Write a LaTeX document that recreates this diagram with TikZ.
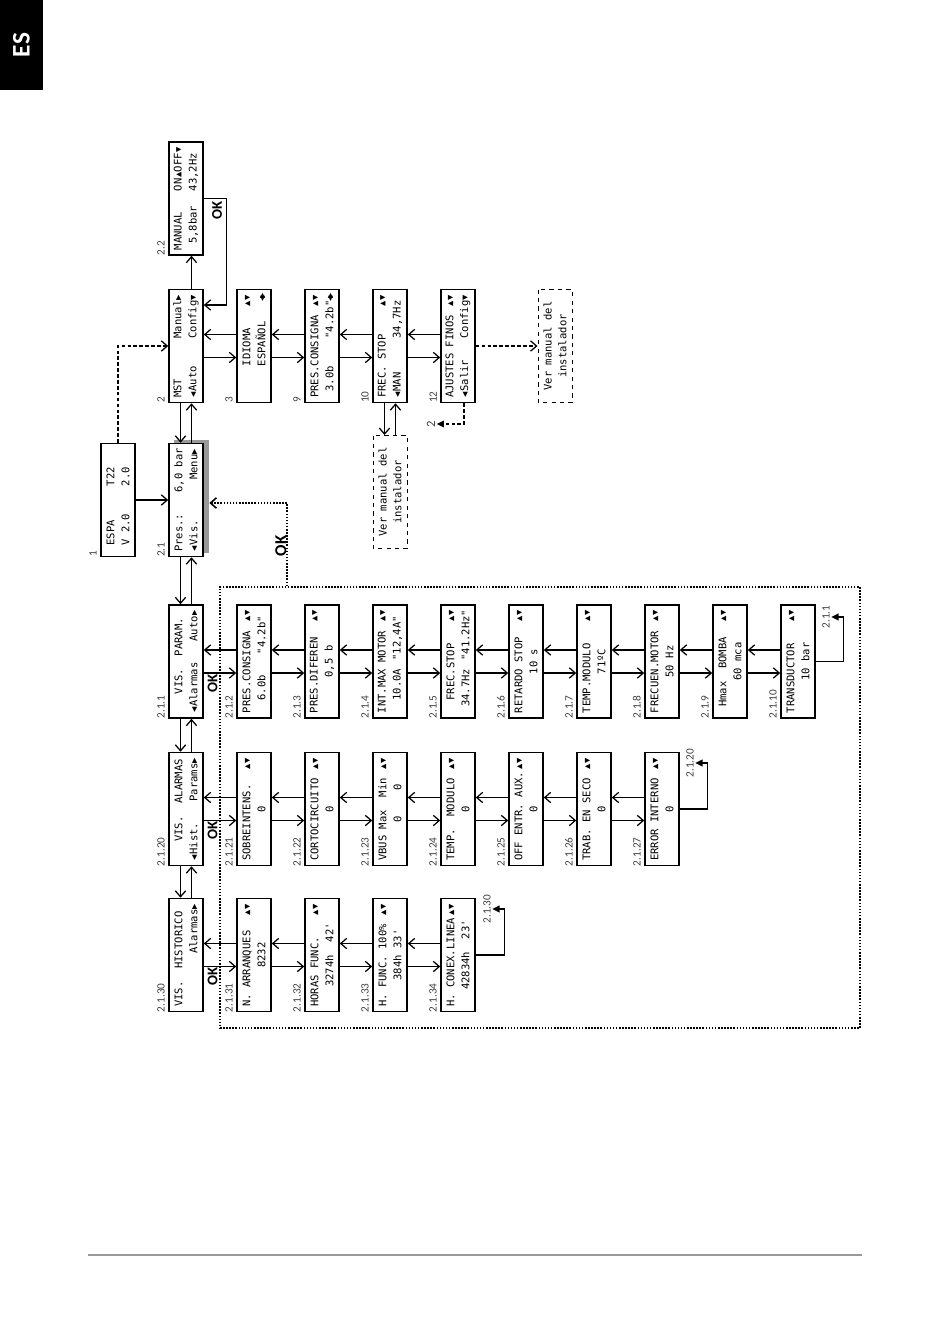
\documentclass[tikz,border=0pt]{standalone}
\usepackage{fontspec}
\setmainfont{Carlito}
\setmonofont{DejaVu Sans Mono}[WordSpace={1,0,0}]
\newfontfamily\symf{DejaVu Sans}
\usetikzlibrary{arrows.meta,positioning,calc}
\newcommand\onech[1]{\makebox[0.602em]{#1}}
\newcommand\aU{\onech{\symf ▴}}
\newcommand\aD{\onech{\symf ▾}}
\newcommand\aL{\onech{\symf ◂}}
\newcommand\aR{\onech{\symf ▸}}
\newcommand\aLR{\onech{\symf ◂\kern-.28em▸}}
\newcommand\lcdl[2]{\leavevmode\hbox to\hsize{#1\hfill#2}}
\newcommand\lcdc[1]{\leavevmode\hbox to\hsize{\hfill#1\hfill}}
\newcommand\lcdfont{\ttfamily\fontsize{7.5}{10.6}\selectfont\def~{\hspace*{0.602em}}}
\tikzset{
  lcd/.style={draw, fill=white, line width=1.1pt, rotate=90,
              minimum width=28.25mm, minimum height=8.5mm, inner sep=0pt,
              text width=25.9mm, align=left, font=\lcdfont},
  ver/.style={lcd, dashed, line width=0.7pt, align=center},
  num/.style={rotate=90, inner sep=0pt, text=black!75, font=\fontsize{8}{9}\selectfont},
  okl/.style={rotate=90, inner sep=0pt, font=\bfseries\fontsize{10.5}{10.5}\selectfont},
  dotframe/.style={draw, line width=1.1pt, dash pattern=on 1.1pt off 1.1pt,
                   minimum width=160mm, minimum height=110.25mm},
  fw/.style={line width=0.9pt, -{Straight Barb[length=1.5mm,width=2.6mm]}},
  bk/.style={line width=0.9pt, -{Triangle[length=1.8mm,width=1.7mm]}},
  dsh/.style={dash pattern=on 2.6pt off 1.6pt},
  dts/.style={line width=1.1pt, dash pattern=on 1.1pt off 1.1pt},
}

\begin{document}
\begin{tikzpicture}[x=0.25mm,y=-0.25mm]
  \useasboundingbox (0,0) rectangle (950,1344);
  % language tab and footer rule
  \fill (0,0) rectangle (43,90);
  \node[rotate=90, text=white, font=\bfseries\fontsize{18}{18}\selectfont] (es) at (21.5,45) {ES};
  \draw[black!40, line width=1pt] (88,1255) -- (862,1255);

  % dotted frame round the sub menus
  \node[dotframe] (fr) at (540,807.5) {};
  \fill[black!40] (174,440) rectangle (208.5,553);

  % main menu
  \node[lcd] (b1) at (118,500) {\lcdl{~ESPA}{T22~~~}\\\lcdl{~V~2.0}{2.0~~~}};
  \node[lcd] (b21) at (186,500) {\lcdl{Pres.:}{6,0~bar}\\\lcdl{\aL Vis.}{Menu\aR}};
  \node[lcd] (b2) at (186,346) {\lcdl{MST}{Manual\aR}\\\lcdl{\aL Auto}{Config\aD}};
  \node[lcd] (b22) at (186,198.5) {\lcdl{MANUAL}{ON\aU OFF\aD}\\\lcdl{~5,8bar}{43,2Hz~}};
  \node[lcd] (b3) at (254,346) {\lcdl{~~~~~IDIOMA}{\aU\aD}\\\lcdl{~~~~~ESPAÑOL}{\aLR}};
  \node[lcd] (b9) at (322,346) {\lcdl{PRES.CONSIGNA}{\aU\aD}\\\lcdl{~3.0b}{"4.2b"\aLR}};
  \node[lcd] (b10) at (390,346) {\lcdl{FREC.~STOP}{\aU\aD}\\\lcdl{\aL MAN}{34,7Hz~}};
  \node[lcd] (b12) at (458,346) {\lcdl{AJUSTES~FINOS}{\aU\aD}\\\lcdl{\aL Salir}{Config\aD}};
  \node[ver] (verL) at (390,492) {Ver~manual~del\\instalador};
  \node[ver] (verR) at (555,346) {Ver~manual~del\\instalador};

  % parametros
  \node[lcd] (b211) at (186,661.5) {\lcdl{~~~VIS.~~PARAM.}{}\\\lcdl{\aL Alarmas}{Auto\aR}};
  \node[lcd] (b212) at (254,661.5) {\lcdl{PRES.CONSIGNA}{\aU\aD}\\\lcdl{~~6.0b}{"4.2b"~}};
  \node[lcd] (b213) at (322,661.5) {\lcdl{PRES.DIFEREN}{\aU\aD}\\\lcdc{0,5~b}};
  \node[lcd] (b214) at (390,661.5) {\lcdl{INT.MAX~MOTOR}{\aU\aD}\\\lcdl{~~10.0A}{"12,4A"~}};
  \node[lcd] (b215) at (458,661.5) {\lcdl{~~FREC.STOP}{\aU\aD}\\\lcdl{~34.7Hz}{"41.2Hz"}};
  \node[lcd] (b216) at (526,661.5) {\lcdl{RETARDO~STOP}{\aU\aD}\\\lcdc{10~s}};
  \node[lcd] (b217) at (594,661.5) {\lcdl{TEMP.MODULO}{\aU\aD}\\\lcdc{71ºC}};
  \node[lcd] (b218) at (662,661.5) {\lcdl{FRECUEN.MOTOR}{\aU\aD}\\\lcdc{50~Hz}};
  \node[lcd] (b219) at (730,661.5) {\lcdl{~Hmax~~BOMBA}{\aU\aD}\\\lcdc{60~mca}};
  \node[lcd] (b2110) at (798,661.5) {\lcdl{TRANSDUCTOR}{\aU\aD}\\\lcdc{10~bar}};

  % alarmas
  \node[lcd] (b2120) at (186,809) {\lcdl{~~~VIS.~~ALARMAS}{}\\\lcdl{\aL Hist.}{Params\aR}};
  \node[lcd] (b2121) at (254,809) {\lcdl{SOBREINTENS.}{\aU\aD}\\\lcdc{0}};
  \node[lcd] (b2122) at (322,809) {\lcdl{CORTOCIRCUITO}{\aU\aD}\\\lcdc{0}};
  \node[lcd] (b2123) at (390,809) {\lcdl{VBUS~Max~~Min}{\aU\aD}\\\lcdl{~~~~~~0~~~~0}{}};
  \node[lcd] (b2124) at (458,809) {\lcdl{TEMP.~~MODULO}{\aU\aD}\\\lcdc{0}};
  \node[lcd] (b2125) at (526,809) {\lcdl{OFF~ENTR.~AUX.}{\aU\aD}\\\lcdc{0}};
  \node[lcd] (b2126) at (594,809) {\lcdl{TRAB.~EN~SECO}{\aU\aD}\\\lcdc{0}};
  \node[lcd] (b2127) at (662,809) {\lcdl{ERROR~INTERNO}{\aU\aD}\\\lcdc{0}};

  % historico
  \node[lcd] (b2130) at (186,955) {\lcdl{VIS.~~HISTORICO}{}\\\lcdl{}{Alarmas\aR}};
  \node[lcd] (b2131) at (254,955) {\lcdl{N.~ARRANQUES}{\aU\aD}\\\lcdc{8232}};
  \node[lcd] (b2132) at (322,955) {\lcdl{HORAS~FUNC.}{\aU\aD}\\\lcdc{3274h~~42'}};
  \node[lcd] (b2133) at (390,955) {\lcdl{H.~FUNC.~100\%}{\aU\aD}\\\lcdc{384h~33'}};
  \node[lcd] (b2134) at (458,955) {\lcdl{H.~CONEX.LINEA}{\aU\aD}\\\lcdc{42834h~~23'}};

  % screen numbers
  \foreach \b/\t in {b1/1, b21/2.1, b2/2, b22/2.2, b3/3, b9/9, b10/10, b12/12,
      b211/2.1.1, b212/2.1.2, b213/2.1.3, b214/2.1.4, b215/2.1.5, b216/2.1.6,
      b217/2.1.7, b218/2.1.8, b219/2.1.9, b2110/2.1.10,
      b2120/2.1.20, b2121/2.1.21, b2122/2.1.22, b2123/2.1.23, b2124/2.1.24,
      b2125/2.1.25, b2126/2.1.26, b2127/2.1.27,
      b2130/2.1.30, b2131/2.1.31, b2132/2.1.32, b2133/2.1.33, b2134/2.1.34}
    \node[num, anchor=south west] (n\b) at ([xshift=-0.8mm]\b.north west) {\t};

  % return targets
  \node[num, inner sep=1pt] (r211) at (826,617) {2.1.1};
  \node[num, inner sep=1pt] (r2120) at (690,763) {2.1.20};
  \node[num, inner sep=1pt] (r2130) at (487,909) {2.1.30};
  \node[num, inner sep=1pt, font=\fontsize{9}{9}\selectfont] (r2) at (431,424) {2};

  % OK keys
  \node[okl] (ok22) at (217,210) {OK};
  \node[okl] (ok211) at (212.5,683.5) {OK};
  \node[okl] (ok2120) at (212.5,830) {OK};
  \node[okl] (ok2130) at (212.5,976) {OK};
  \node[okl, font=\bfseries\fontsize{12}{12}\selectfont] (ok21) at (281,546) {OK};

  % connectors
  \draw[fw] (b1.south) -- (b21.north);
  \draw[fw, dsh] (b1.east) |- (b2.north);
  \foreach \u/\l in {b2/b21, b21/b211, b211/b2120, b2120/b2130, b10/verL} {
    \draw[fw] ([shift={(-5.5,0)}]\u.west) -- ([shift={(-5.5,0)}]\l.east);
    \draw[fw] ([shift={(5.5,0)}]\l.east) -- ([shift={(5.5,0)}]\u.west);
  }
  \draw[fw] ([shift={(5.5,0)}]b2.east) -- ([shift={(5.5,0)}]b22.west);
  \draw[fw] (b22.south) -- ++(23,0) |- ([shift={(0,-41)}]b2.south);
  \foreach \a/\b in {b2/b3, b3/b9, b9/b10, b10/b12,
      b211/b212, b212/b213, b213/b214, b214/b215, b215/b216, b216/b217,
      b217/b218, b218/b219, b219/b2110,
      b2120/b2121, b2121/b2122, b2122/b2123, b2123/b2124, b2124/b2125,
      b2125/b2126, b2126/b2127,
      b2130/b2131, b2131/b2132, b2132/b2133, b2133/b2134} {
    \draw[fw] ([shift={(0,11.5)}]\a.south) -- ([shift={(0,11.5)}]\b.north);
    \draw[fw] ([shift={(0,-11.5)}]\b.north) -- ([shift={(0,-11.5)}]\a.south);
  }
  \draw[fw, dsh] (b12.south) -- (verR.north);
  \draw[bk, dsh] ([shift={(6,0)}]b12.west) |- (r2.south);
  \draw[fw, dts] ([xshift=17mm]fr.north west) |- ([shift={(5.5,3)}]b21.south);
  \draw[bk] (b2110.south) -- ++(28,0) |- (r211.south);
  \draw[bk] (b2127.south) -- ++(28,0) |- (r2120.south);
  \draw[bk] (b2134.south) -- ++(29,0) |- (r2130.south);
\end{tikzpicture}
\end{document}
